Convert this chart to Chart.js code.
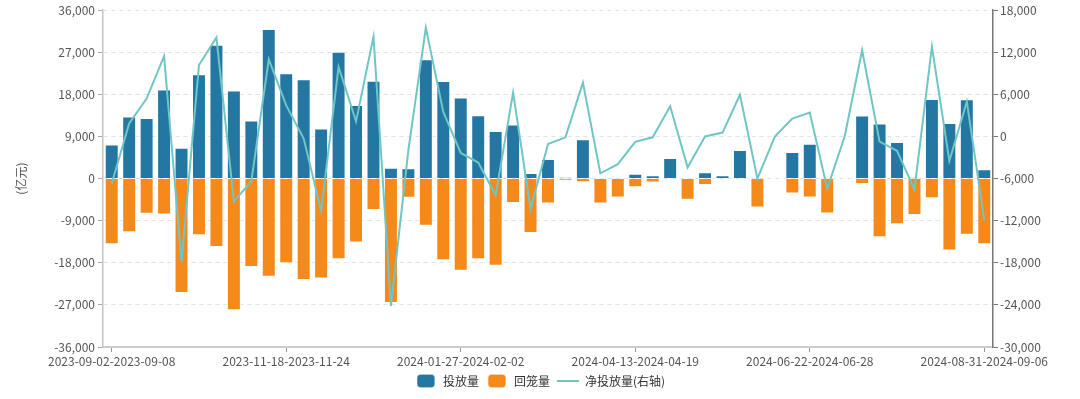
<!DOCTYPE html>
<html>
<head>
<meta charset="utf-8">
<script src="https://cdn.jsdelivr.net/npm/chart.js@4.4.1/dist/chart.umd.min.js"></script>
<style>
  html,body{margin:0;padding:0;background:#fff;}
  #wrap{width:1080px;height:399px;position:relative;}
</style>
</head>
<body>
<div id="wrap"><canvas id="c"></canvas></div>
<script>
// weekly open market operations, 亿元
const weeks = [
  '2023-09-02-2023-09-08','2023-09-09-2023-09-15','2023-09-16-2023-09-22','2023-09-23-2023-10-06','2023-10-07-2023-10-13',
  '2023-10-14-2023-10-20','2023-10-21-2023-10-27','2023-10-28-2023-11-03','2023-11-04-2023-11-10','2023-11-11-2023-11-17',
  '2023-11-18-2023-11-24','2023-11-25-2023-12-01','2023-12-02-2023-12-08','2023-12-09-2023-12-15','2023-12-16-2023-12-22',
  '2023-12-23-2023-12-29','2023-12-30-2024-01-05','2024-01-06-2024-01-12','2024-01-13-2024-01-19','2024-01-20-2024-01-26',
  '2024-01-27-2024-02-02','2024-02-03-2024-02-09','2024-02-10-2024-02-23','2024-02-24-2024-03-01','2024-03-02-2024-03-08',
  '2024-03-09-2024-03-15','2024-03-16-2024-03-22','2024-03-23-2024-03-29','2024-03-30-2024-04-05','2024-04-06-2024-04-12',
  '2024-04-13-2024-04-19','2024-04-20-2024-04-26','2024-04-27-2024-05-03','2024-05-04-2024-05-10','2024-05-11-2024-05-17',
  '2024-05-18-2024-05-24','2024-05-25-2024-05-31','2024-06-01-2024-06-07','2024-06-08-2024-06-14','2024-06-15-2024-06-21',
  '2024-06-22-2024-06-28','2024-06-29-2024-07-05','2024-07-06-2024-07-12','2024-07-13-2024-07-19','2024-07-20-2024-07-26',
  '2024-07-27-2024-08-02','2024-08-03-2024-08-09','2024-08-10-2024-08-16','2024-08-17-2024-08-23','2024-08-24-2024-08-30',
  '2024-08-31-2024-09-06'
];
const injection = [
  7300,13250,12970,19060,6590,22320,28630,18850,12400,31960,
  22540,21260,10700,27140,15730,20910,2340,2200,25510,20840,
  17360,13540,10200,11550,1200,4180,280,8430,0,0,
  1060,710,4390,0,1350,710,6100,0,0,5670,
  7440,0,0,13470,11760,7800,210,17010,11910,16940,
  1980
];
const maturity = [
  -14030,-11480,-7510,-7650,-24450,-12120,-14600,-28140,-18920,-20980,
  -18070,-21690,-21330,-17220,-13680,-6730,-26580,-4110,-10060,-17430,
  -19700,-17220,-18640,-5240,-11620,-5320,-430,-780,-5320,-4040,
  -1840,-850,-140,-4540,-1350,-210,-140,-6170,-100,-3190,
  -4040,-7440,-100,-1130,-12540,-9780,-7800,-4180,-15380,-11980,
  -14030
];
const netInjection = [
  -6700,1850,5400,11450,-17850,10180,14100,-9250,-6400,11000,
  4430,-300,-10600,9920,2150,14230,-24150,-1910,15480,3500,
  -2350,-3720,-8350,6250,-10300,-1080,-120,7680,-5250,-3950,
  -770,-120,4300,-4400,0,560,5950,-6000,0,2560,
  3420,-7430,0,12300,-740,-2030,-7570,12800,-3480,4960,
  -11950
];

const FONT = '"Noto Sans CJK SC","Noto Sans",sans-serif';
const TXT = '#555';
const fmt = v => Number(v).toLocaleString('en-US');

new Chart(document.getElementById('c'), {
  type: 'bar',
  data: {
    labels: weeks,
    datasets: [
      {label:'投放量', data:injection, backgroundColor:'#2577A3', borderColor:'rgba(255,255,255,0.55)', borderWidth:1,
       stack:'s', yAxisID:'y', order:1, pointStyle:'rectRounded', categoryPercentage:0.8, barPercentage:1},
      {label:'回笼量', data:maturity, backgroundColor:'#F5891A', borderColor:'rgba(255,255,255,0.55)', borderWidth:1,
       stack:'s', yAxisID:'y', order:1, pointStyle:'rectRounded', categoryPercentage:0.8, barPercentage:1},
      {type:'line', label:'净投放量(右轴)', data:netInjection, borderColor:'#6FC6C5', backgroundColor:'#6FC6C5',
       borderWidth:2, pointRadius:0, tension:0, yAxisID:'y1', order:0, pointStyle:'line'}
    ]
  },
  options: {
    responsive:true, maintainAspectRatio:false, animation:false,
    layout:{padding:{top:8, bottom:2, left:0, right:0}},
    plugins:{
      tooltip:{enabled:false},
      legend:{position:'bottom', labels:{usePointStyle:true, pointStyleWidth:22, boxHeight:11, padding:7,
        color:'#333', font:{family:FONT, size:12}, sort:(a,b)=>a.datasetIndex-b.datasetIndex}}
    },
    scales:{
      x:{
        stacked:true, offset:true,
        grid:{display:true, offset:false, drawOnChartArea:false, drawTicks:true, tickLength:5, color:'#999'},
        border:{color:'#ccc', width:2},
        ticks:{autoSkip:false, maxRotation:0, padding:2, color:TXT, font:{family:FONT, size:12},
          callback:(v,i)=> i%10===0 ? weeks[i] : null},
        afterFit:s=>{ s.height = 21; }
      },
      y:{
        position:'left', stacked:true, min:-36000, max:36000,
        grid:{color:'#e3e3e3', tickLength:5, tickColor:'#aaa'},
        border:{color:'#c4c4c4', width:1.5, dash:[4,4]},
        ticks:{stepSize:9000, padding:3, color:TXT, font:{family:FONT, size:12}, callback:v=>fmt(v)},
        title:{display:true, text:'(亿元)', color:TXT, font:{family:FONT, size:12}, padding:{top:14, bottom:0}},
        afterFit:s=>{ s.width = 103; }
      },
      y1:{
        position:'right', min:-30000, max:18000,
        grid:{drawOnChartArea:false, tickLength:5, color:'#777'},
        border:{color:'#777', width:1.5},
        ticks:{stepSize:6000, padding:2, color:TXT, font:{family:FONT, size:12}, callback:v=>fmt(v)},
        afterFit:s=>{ s.width = 87; }
      }
    }
  }
});
</script>
</body>
</html>
